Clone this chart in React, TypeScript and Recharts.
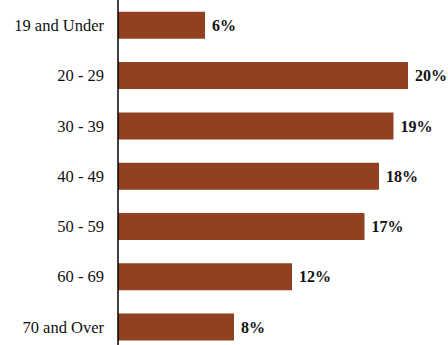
import { BarChart, Bar, XAxis, YAxis, LabelList, ReferenceLine } from 'recharts';

const ageGroups = ['19 and Under', '20 - 29', '30 - 39', '40 - 49', '50 - 59', '60 - 69', '70 and Over'];
const shares = [6, 20, 19, 18, 17, 12, 8];

const data = ageGroups.map((group, i) => ({ group, share: shares[i] }));

const serif = '"Liberation Serif", "Times New Roman", serif';

// chart sits flush with the page edges
document.body.style.margin = '0';
document.body.style.overflow = 'hidden';

export default function App() {
  return (
    <div style={{ width: 448, height: 345, overflow: 'hidden', background: '#fff' }}>
      <BarChart
        width={448}
        height={360}
        data={data}
        layout="vertical"
        margin={{ top: 0, right: 11, bottom: 8, left: 0 }}
        barCategoryGap="23.5%"
      >
        <XAxis type="number" domain={[0, 22]} hide />
        <YAxis
          type="category"
          dataKey="group"
          width={118}
          axisLine={false}
          tickLine={false}
          tickSize={6}
          tickMargin={8}
          tick={{ fill: '#111', fontSize: 16.5, fontFamily: serif }}
        />
        <ReferenceLine x={0} stroke="#000" strokeWidth={1.5} />
        <Bar dataKey="share" fill="#914022" isAnimationActive={false}>
          <LabelList
            dataKey="share"
            position="right"
            offset={7}
            formatter={(v: number) => `${v}%`}
            style={{ fill: '#111', fontSize: 16, fontWeight: 'bold', fontFamily: serif }}
          />
        </Bar>
      </BarChart>
    </div>
  );
}
